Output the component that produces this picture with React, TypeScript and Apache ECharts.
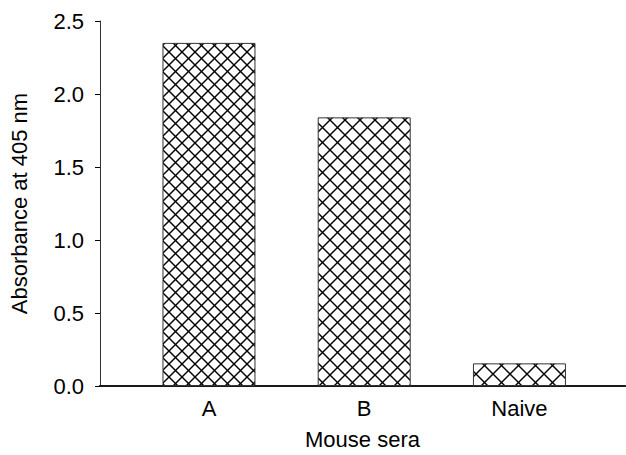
import React, { useEffect, useRef } from "react";
import * as echarts from "echarts";

const categories = ["A", "B", "Naive"];
const positions = [1, 2, 3];
const values = [2.35, 1.84, 0.155];
const hatchSizes = [13, 15, 17];
const yMin = 0;
const yMax = 2.5;
const yStep = 0.5;

function makeHatch(size: number): HTMLCanvasElement {
  const c = document.createElement("canvas");
  c.width = size;
  c.height = size;
  const ctx = c.getContext("2d")!;
  ctx.fillStyle = "#ffffff";
  ctx.fillRect(0, 0, size, size);
  ctx.strokeStyle = "#000000";
  ctx.lineWidth = 1.4;
  for (const o of [-size, 0, size]) {
    ctx.beginPath();
    ctx.moveTo(o, 0);
    ctx.lineTo(o + size, size);
    ctx.stroke();
    ctx.beginPath();
    ctx.moveTo(o + size, 0);
    ctx.lineTo(o, size);
    ctx.stroke();
  }
  return c;
}

export default function App() {
  const ref = useRef<HTMLDivElement>(null);
  useEffect(() => {
    if (!ref.current) return;
    const chart = echarts.init(ref.current, undefined, { renderer: "svg" });
    const font = "'Liberation Sans', Arial, sans-serif";
    const fs = 22;
    const data = positions.map((p, i) => ({
      value: [p, values[i]],
      itemStyle: {
        color: { image: makeHatch(hatchSizes[i]), repeat: "repeat" } as any,
        borderColor: "#333",
        borderWidth: 1,
      },
    }));
    chart.setOption({
      animation: false,
      backgroundColor: "#ffffff",
      textStyle: { fontFamily: font, color: "#000" },
      grid: { left: 100, right: 1, top: 21, bottom: 65, containLabel: false },
      xAxis: [
        {
          type: "value",
          min: 0.298,
          max: 3.68,
          axisLine: { show: true, onZero: false, lineStyle: { color: "#000", width: 2 } },
          axisTick: { show: false },
          splitLine: { show: false },
          axisLabel: {
            customValues: positions,
            formatter: (v: number) => categories[positions.indexOf(Math.round(v))] ?? "",
            margin: 11,
            fontSize: fs,
            color: "#000",
            fontFamily: font,
          },
          name: "Mouse sera",
          nameLocation: "middle",
          nameGap: 42,
          nameTextStyle: { fontSize: fs, color: "#000", fontFamily: font },
        },
        {
          type: "value",
          position: "top",
          min: 0.298,
          max: 3.68,
          axisLine: { show: true, lineStyle: { color: "#222", width: 1.5 } },
          axisTick: { show: false },
          axisLabel: { show: false },
          splitLine: { show: false },
        },
      ],
      yAxis: {
        type: "value",
        min: yMin,
        max: yMax,
        interval: yStep,
        axisLine: { show: true, lineStyle: { color: "#333", width: 1 } },
        axisTick: { show: true, length: 5, lineStyle: { color: "#000", width: 1 } },
        splitLine: { show: false },
        axisLabel: {
          formatter: (v: number) => v.toFixed(1),
          margin: 16,
          fontSize: fs,
          color: "#000",
          fontFamily: font,
        },
        name: "Absorbance at 405 nm",
        nameLocation: "middle",
        nameGap: 70,
        nameTextStyle: { fontSize: fs, color: "#000", fontFamily: font },
      },
      series: [
        {
          type: "bar",
          xAxisIndex: 0,
          barWidth: 93,
          data,
        },
      ],
    });
    return () => chart.dispose();
  }, []);
  return (
    <div
      ref={ref}
      style={{ position: "fixed", left: 0, top: 0, width: 626, height: 455 }}
    />
  );
}
